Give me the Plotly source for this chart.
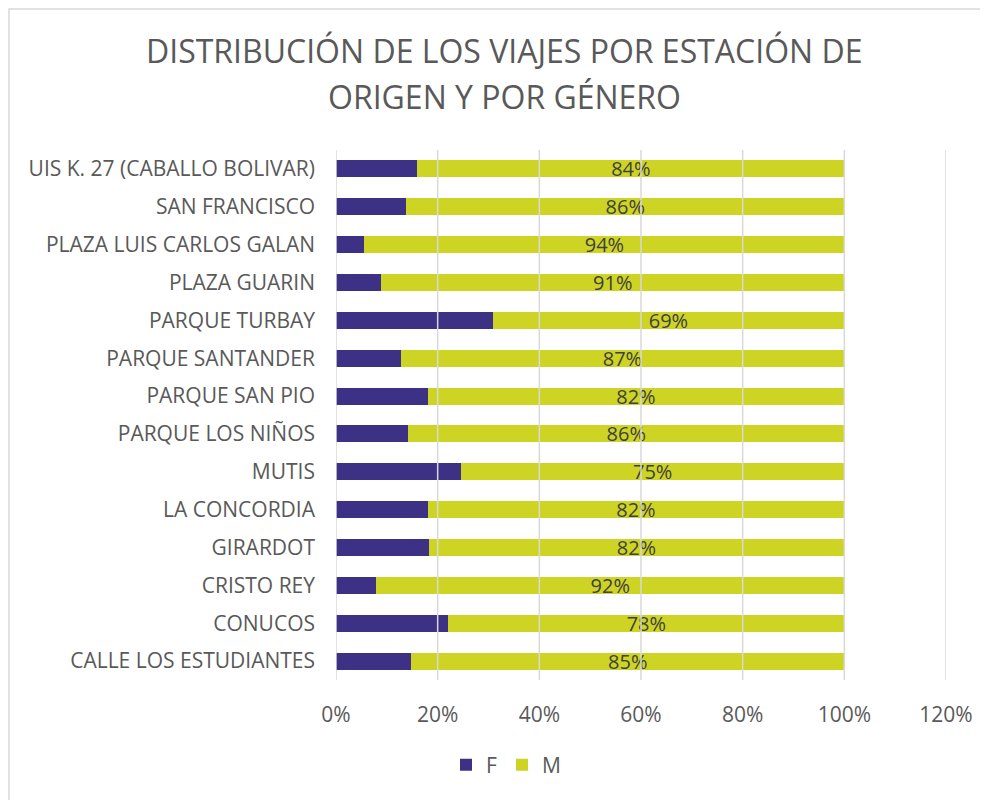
import plotly.graph_objects as go

estaciones = [
    "UIS K. 27 (CABALLO BOLIVAR)", "SAN FRANCISCO", "PLAZA LUIS CARLOS GALAN",
    "PLAZA GUARIN", "PARQUE TURBAY", "PARQUE SANTANDER", "PARQUE SAN PIO",
    "PARQUE LOS NIÑOS", "MUTIS", "LA CONCORDIA", "GIRARDOT", "CRISTO REY",
    "CONUCOS", "CALLE LOS ESTUDIANTES",
]
f_vals = [16.0, 13.8, 5.6, 8.9, 30.8, 12.7, 18.0, 14.2, 24.6, 18.0, 18.2, 7.9, 22.1, 14.8]
m_vals = [100 - v for v in f_vals]
tick_vals = [0, 20, 40, 60, 80, 100, 120]
tick_text = ["0%", "20%", "40%", "60%", "80%", "100%", "120%"]
title_lines = ["DISTRIBUCIÓN DE LOS VIAJES POR ESTACIÓN DE", "ORIGEN Y POR GÉNERO"]

font_family = "Open Sans, Liberation Sans, sans-serif"
grey = "#595959"

W, H = 980, 792
OFF = 8  # page body margin
L, T = 336 - OFF, 150 - OFF
R = W - (946 - OFF)
B = H - (680 - OFF)
PW, PH = W - L - R, H - T - B


def px_x(p):
    return (p - OFF - L) / PW


def px_y(p):
    return (H - (p - OFF) - B) / PH


fig = go.Figure()
fig.add_trace(go.Bar(
    y=estaciones, x=f_vals, name="F", orientation="h",
    marker=dict(color="#3D3186", line=dict(width=0)),
))
fig.add_trace(go.Bar(
    y=estaciones, x=m_vals, name="M", orientation="h",
    marker=dict(color="#CED423", line=dict(width=0)),
    text=[f"{round(v)}%" for v in m_vals], textposition="inside",
    insidetextanchor="middle", textangle=0,
    textfont=dict(size=20, color="#404040", family=font_family),
))

shapes = [
    dict(type="line", xref="x", yref="paper", x0=t, x1=t, y0=0, y1=1,
         line=dict(color="#D9D9D9", width=1.5), layer="above")
    for t in tick_vals
]
shapes.append(dict(type="rect", xref="paper", yref="paper",
                   x0=px_x(9), x1=px_x(1010),
                   y0=px_y(830), y1=px_y(9),
                   line=dict(color="#D9D9D9", width=1.5), layer="below"))

annotations = [
    dict(text=title_lines[0], xref="paper", yref="paper",
         x=px_x(504), y=px_y(50), xanchor="center", yanchor="middle",
         showarrow=False, font=dict(size=32, color=grey, family=font_family)),
    dict(text=title_lines[1], xref="paper", yref="paper",
         x=px_x(504), y=px_y(97), xanchor="center", yanchor="middle",
         showarrow=False, font=dict(size=32, color=grey, family=font_family)),
]

fig.update_layout(
    width=W, height=H,
    barmode="stack", bargap=0.55,
    paper_bgcolor="white", plot_bgcolor="white",
    margin=dict(l=L, r=R, t=T, b=B, autoexpand=False),
    xaxis=dict(
        range=[0, 120], tickvals=tick_vals, ticktext=tick_text,
        showgrid=False, zeroline=False, showline=False, automargin=False,
        tickfont=dict(size=21, color=grey, family=font_family),
        ticks="", ticklabelstandoff=20,
    ),
    yaxis=dict(
        categoryorder="array", categoryarray=list(reversed(estaciones)),
        showgrid=False, zeroline=False, showline=False, ticks="", automargin=False,
        tickfont=dict(size=21, color=grey, family=font_family),
        ticklabelstandoff=20,
    ),
    legend=dict(
        orientation="h", x=px_x(506), xanchor="center",
        y=px_y(765), yanchor="middle",
        font=dict(size=21, color=grey, family=font_family),
        traceorder="normal", itemwidth=30,
    ),
    shapes=shapes,
    annotations=annotations,
    uniformtext=dict(mode="show", minsize=20),
)

fig.write_html("out.html")
